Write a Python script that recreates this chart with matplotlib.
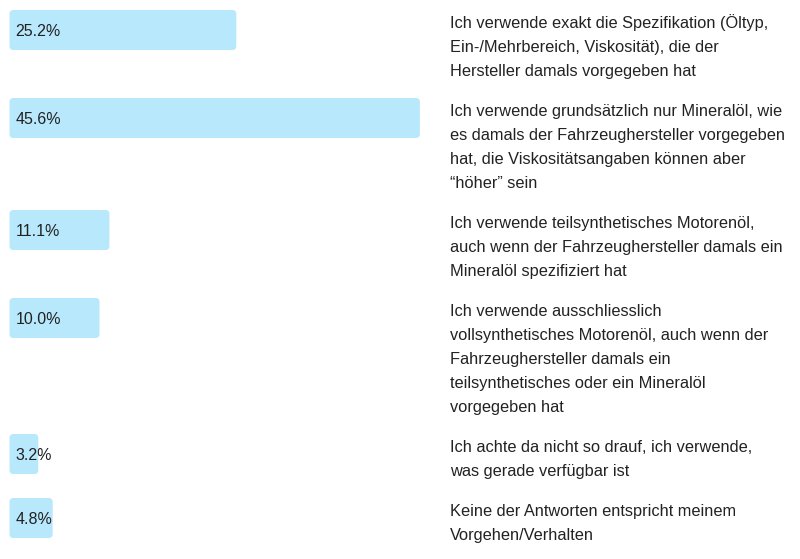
import matplotlib
matplotlib.use("Agg")
import matplotlib.pyplot as plt
from matplotlib.patches import FancyBboxPatch

plt.rcParams['font.family'] = ['Liberation Sans', 'DejaVu Sans']

values = [25.2, 45.6, 11.1, 10.0, 3.2, 4.8]
answers = [
    "Ich verwende exakt die Spezifikation (Öltyp,\nEin-/Mehrbereich, Viskosität), die der\nHersteller damals vorgegeben hat",
    "Ich verwende grundsätzlich nur Mineralöl, wie\nes damals der Fahrzeughersteller vorgegeben\nhat, die Viskositätsangaben können aber\n\u201chöher\u201d sein",
    "Ich verwende teilsynthetisches Motorenöl,\nauch wenn der Fahrzeughersteller damals ein\nMineralöl spezifiziert hat",
    "Ich verwende ausschliesslich\nvollsynthetisches Motorenöl, auch wenn der\nFahrzeughersteller damals ein\nteilsynthetisches oder ein Mineralöl\nvorgegeben hat",
    "Ich achte da nicht so drauf, ich verwende,\nwas gerade verfügbar ist",
    "Keine der Antworten entspricht meinem\nVorgehen/Verhalten",
]

W, H = 800, 559
px_per_pct = 9.0
x0 = 9.5          # pixel where 0 % sits
line_h = 24
bar_h = 40
bar_color = '#b8e8fc'
text_color = '#222222'

fig = plt.figure(figsize=(W / 100, H / 100), dpi=100)
ax = fig.add_axes([0, 0, 1, 1])
ax.set_xlim(-x0 / px_per_pct, (W - x0) / px_per_pct)
ax.set_ylim(H, 0)
ax.axis('off')

# row tops follow from how many lines each answer needs
tops = []
y = 10
for a in answers:
    tops.append(y)
    y += line_h * len(a.split("\n")) + 16

bars = ax.barh(tops, values, height=bar_h, align='edge', color='none')
for b, v, top, a in zip(bars, values, tops, answers):
    ax.add_patch(FancyBboxPatch((b.get_x(), b.get_y()), b.get_width(), b.get_height(),
                                boxstyle="round,pad=0,rounding_size=0.45",
                                mutation_aspect=px_per_pct,
                                fc=bar_color, ec='none'))
    ax.text(6 / px_per_pct, top + bar_h / 2 + 5.5, f"{v:.1f}%", fontsize=11.5,
            color=text_color, ha='left', va='baseline')
    for k, line in enumerate(a.split("\n")):
        ax.text(450 / W, top + 18 + line_h * k, line, transform=ax.get_yaxis_transform(),
                fontsize=11.8, color=text_color, ha='left', va='baseline')

fig.savefig("out.png", dpi=100)
